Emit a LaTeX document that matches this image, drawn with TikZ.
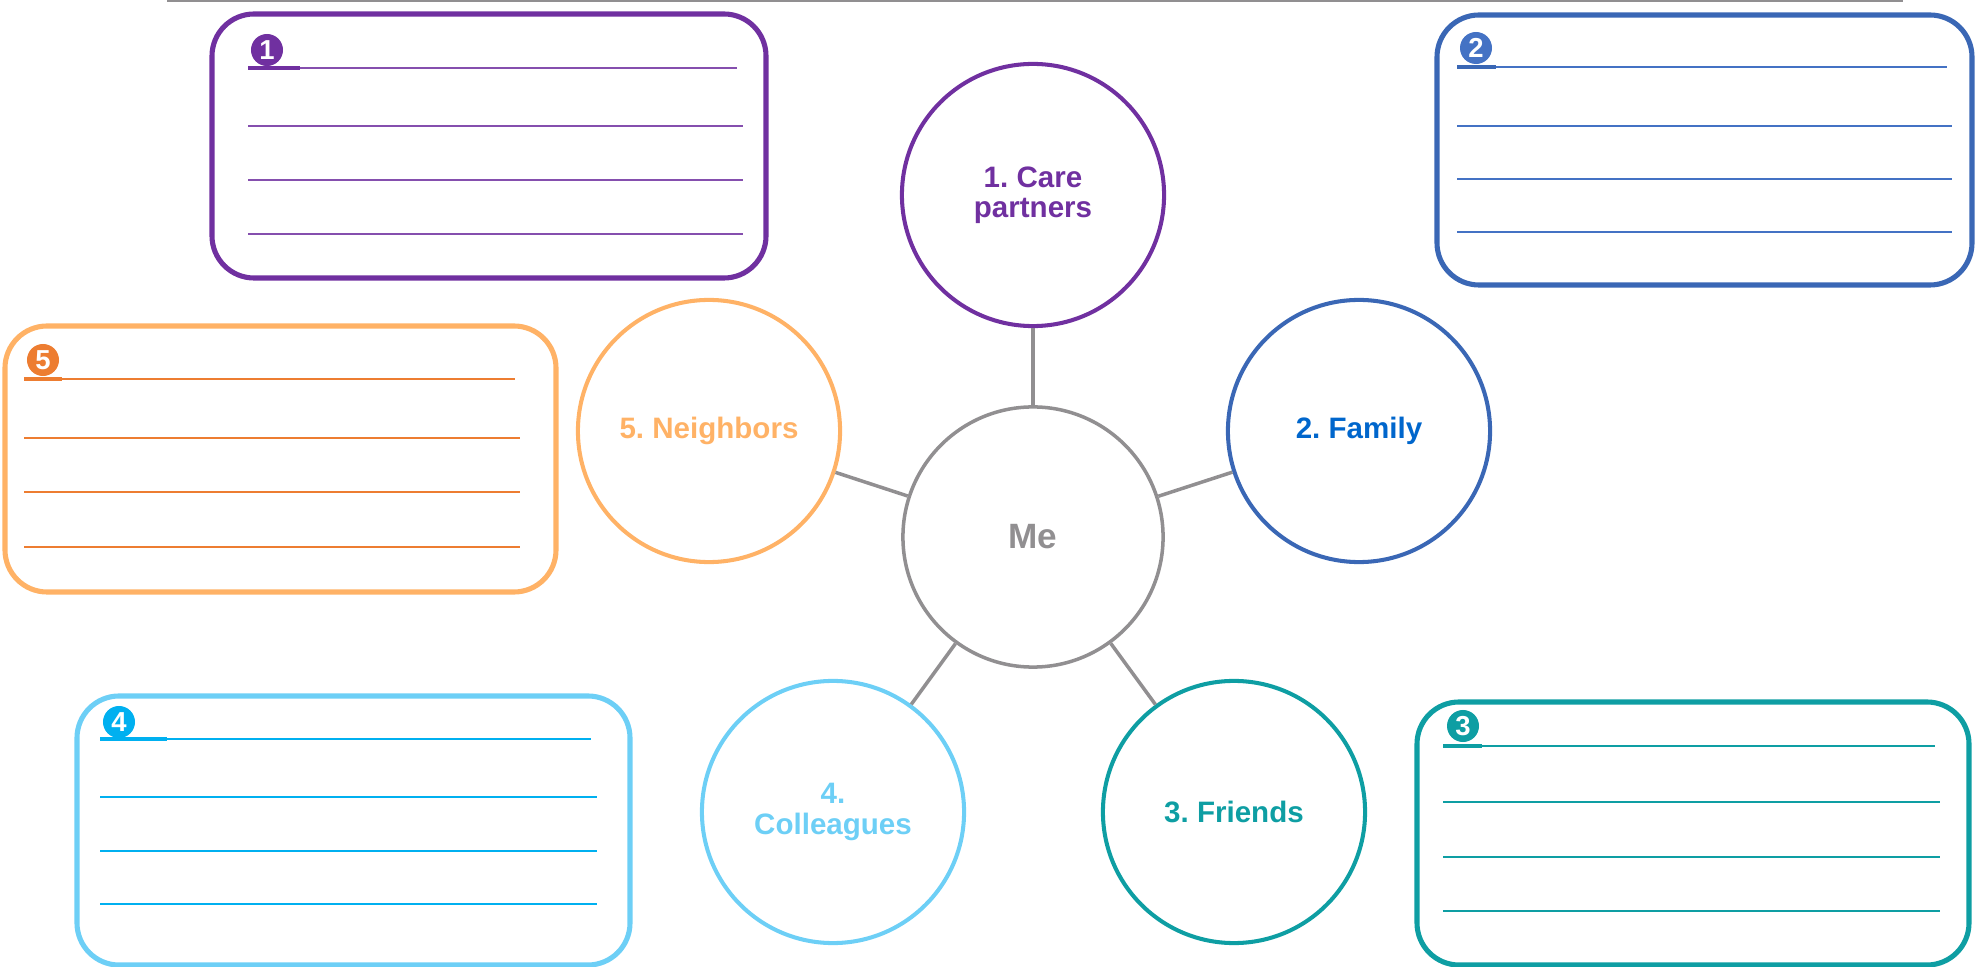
\documentclass[tikz,border=0pt]{standalone}
\usepackage{fontspec}
\setmainfont{Liberation Sans}
\usetikzlibrary{positioning, calc}
\frenchspacing

\definecolor{mepurple}{RGB}{112,48,160}
\definecolor{meblue}{RGB}{58,103,181}
\definecolor{famblue}{RGB}{0,102,204}
\definecolor{lineblue}{RGB}{68,114,196}
\definecolor{meteal}{RGB}{14,158,163}
\definecolor{melight}{RGB}{109,207,246}
\definecolor{linecyan}{RGB}{0,176,240}
\definecolor{meorange}{RGB}{255,178,102}
\definecolor{lineorange}{RGB}{237,125,49}
\definecolor{megray}{RGB}{145,143,145}

\begin{document}
\begin{tikzpicture}[x=0.01cm, y=-0.01cm,
    bubble/.style={circle, draw, line width=1.15pt, minimum size=2.62cm, inner sep=0pt, align=center, font=\fontsize{8.4}{8.6}\selectfont\bfseries},
    card/.style={line width=1.45pt, rounded corners=0.42cm},
    badge/.style={circle, inner sep=0pt, minimum size=0.32cm, text=white, font=\fontsize{7.8}{8}\selectfont\bfseries},
    link/.style={draw=megray, line width=1pt}]
      \useasboundingbox (0,0) rectangle (1975,967);

      \draw[megray, line width=0.6pt] (167,1) -- (1903,1);

      \node[bubble, draw=megray, text=megray, line width=1pt, minimum size=2.6cm, font=\fontsize{10}{12}\selectfont\bfseries] (me) at (1033,537) {Me};
      \node[bubble, draw=mepurple, text=mepurple] (care) at (1033,195) {1. Care\\partners};
      \node[bubble, draw=meblue, text=famblue] (family) at (1359,431) {2. Family};
      \node[bubble, draw=meteal, text=meteal] (friends) at (1234,812) {3. Friends};
      \node[bubble, draw=melight, text=melight] (colleagues) at (833,812) {4.\\Colleagues};
      \node[bubble, draw=meorange, text=meorange] (neighbors) at (709,431) {5. Neighbors};

      \draw[link] (me) -- (care);
      \draw[link] (me) -- (family);
      \draw[link] (me) -- (friends);
      \draw[link] (me) -- (colleagues);
      \draw[link] (me) -- (neighbors);

      \draw[card, mepurple] (212,14) rectangle (766,278);
      \node[badge, fill=mepurple] (b1) at (267,50) {1};
      \draw[mepurple!85!white, line width=0.65pt] (248,68) -- (737,68);
      \draw[mepurple, line width=0.95pt] (248,68) -- (300,68);
      \foreach \y in {126,180,234}
        \draw[mepurple!85!white, line width=0.65pt] (248,\y) -- (743,\y);

      \draw[card, meblue] (1437,15) rectangle (1972,285);
      \node[badge, fill=lineblue] (b2) at (1476,48) {2};
      \draw[lineblue, line width=0.65pt] (1457,67) -- (1947,67);
      \draw[meblue, line width=0.95pt] (1457,67) -- (1496,67);
      \foreach \y in {126,179,232}
        \draw[lineblue, line width=0.65pt] (1457,\y) -- (1952,\y);

      \draw[card, meteal] (1417,702) rectangle (1969,965);
      \node[badge, fill=meteal] (b3) at (1463,726) {3};
      \draw[meteal, line width=0.65pt] (1443,746) -- (1935,746);
      \draw[meteal, line width=0.95pt] (1443,746) -- (1482,746);
      \foreach \y in {802,857,911}
        \draw[meteal, line width=0.65pt] (1443,\y) -- (1940,\y);

      \draw[card, melight] (77,696) rectangle (630,965);
      \node[badge, fill=linecyan] (b4) at (119,722) {4};
      \draw[linecyan, line width=0.65pt] (100,739) -- (591,739);
      \draw[linecyan, line width=0.95pt] (100,739) -- (167,739);
      \foreach \y in {797,851,904}
        \draw[linecyan, line width=0.65pt] (100,\y) -- (597,\y);

      \draw[card, meorange] (5,326) rectangle (556,592);
      \node[badge, fill=lineorange] (b5) at (43,360) {5};
      \draw[lineorange, line width=0.65pt] (24,379) -- (515,379);
      \draw[lineorange, line width=0.95pt] (24,379) -- (62,379);
      \foreach \y in {438,492,547}
        \draw[lineorange, line width=0.65pt] (24,\y) -- (520,\y);

    \end{tikzpicture}
\end{document}
